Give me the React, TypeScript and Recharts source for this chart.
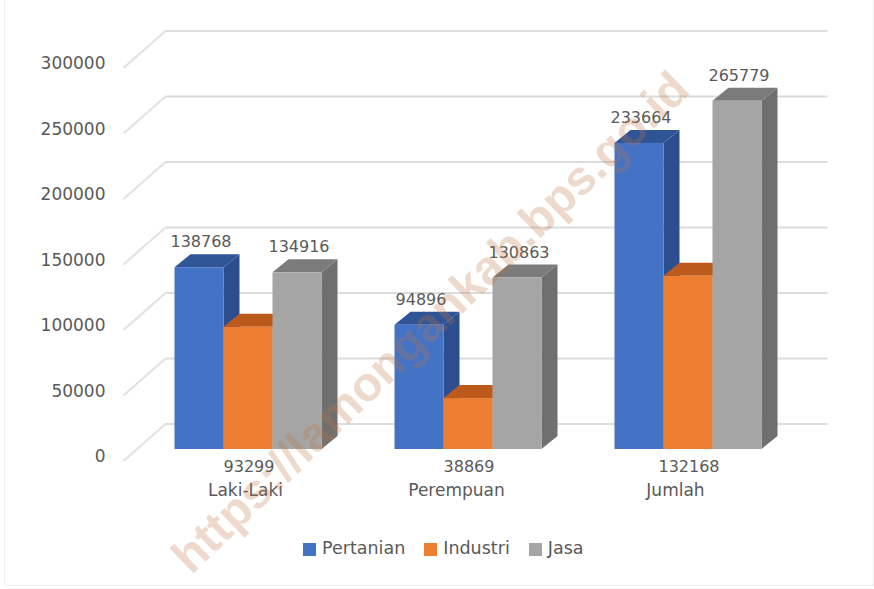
import React from 'react';
import { BarChart, Bar, XAxis, YAxis, CartesianGrid, Legend, LabelList } from 'recharts';

const categories = ['Laki-Laki', 'Perempuan', 'Jumlah'];
const pertanian = [138768, 94896, 233664];
const industri = [93299, 38869, 132168];
const jasa = [134916, 130863, 265779];
const yTicks = [0, 50000, 100000, 150000, 200000, 250000, 300000];

const data = categories.map((name, i) => ({
  name,
  Pertanian: pertanian[i],
  Industri: industri[i],
  Jasa: jasa[i],
}));

const FONT = '"DejaVu Sans", sans-serif';
const TEXT = '#595959';
const DEPTH_X = 16;
const DEPTH_Y = 13;
// the category labels sit left of their group in the original
const labelShift = [-2, -11, -12];

const box = (side: string, top: string) => (props: any) => {
  const { x, y, width, height, fill } = props;
  const r = x + width;
  const b = y + height;
  return (
    <g>
      <path d={`M${r},${y} L${r + DEPTH_X},${y - DEPTH_Y} L${r + DEPTH_X},${b - DEPTH_Y} L${r},${b} Z`} fill={side} />
      <path d={`M${x},${y} L${x + DEPTH_X},${y - DEPTH_Y} L${r + DEPTH_X},${y - DEPTH_Y} L${r},${y} Z`} fill={top} />
      <rect x={x} y={y} width={width} height={height} fill={fill} />
    </g>
  );
};

const wallLine = (props: any) => {
  const { x1, x2, y1, index } = props;
  return (
    <g key={index}>
      <line x1={x1 - 14} y1={y1 + 12} x2={x1 + 28} y2={y1 - 25} stroke="#e2e2e2" strokeWidth={2} />
      <line x1={x1 + 28} y1={y1 - 25} x2={x2 + 30} y2={y1 - 25} stroke="#dcdcdc" strokeWidth={2} />
    </g>
  );
};

const topLabel = (props: any) => {
  const { x, y, width, value } = props;
  return (
    <text x={x + width / 2 + 2} y={y - 20} textAnchor="middle" fontFamily={FONT} fontSize={16} fill={TEXT}>
      {value}
    </text>
  );
};

const bottomLabel = (props: any) => {
  const { x, y, width, height, value } = props;
  return (
    <text x={x + width / 2 + 1} y={y + height + 23} textAnchor="middle" fontFamily={FONT} fontSize={16} fill={TEXT}>
      {value}
    </text>
  );
};

const CategoryTick = (props: any) => {
  const { x, y, payload, index } = props;
  return (
    <text x={x + labelShift[index]} y={y} textAnchor="middle" fontFamily={FONT} fontSize={17} fill={TEXT}>
      {payload.value}
    </text>
  );
};

const LegendRow = ({ payload }: any) => (
  <div style={{ display: 'flex', alignItems: 'center', fontFamily: FONT, fontSize: 17.5, color: TEXT }}>
    {(payload || []).map((item: any) => (
      <div key={item.value} style={{ display: 'flex', alignItems: 'center', marginRight: 19 }}>
        <span style={{ width: 13, height: 13, background: item.color, marginRight: 6, marginTop: 3 }} />
        {item.value}
      </div>
    ))}
  </div>
);

export default function App() {
  return (
    <div style={{ position: 'absolute', left: 0, top: 0, width: 874, height: 589, background: '#fff', overflow: 'hidden' }}>
      <div style={{ position: 'absolute', left: 4, top: -2, width: 868, height: 586, border: '1px solid #f1f1f1' }} />
      <BarChart
        width={874}
        height={589}
        data={data}
        barSize={49}
        barGap={0}
        margin={{ top: 56, right: 76.5, bottom: 90, left: 0 }}
      >
        <CartesianGrid vertical={false} horizontal={wallLine} />
        <XAxis dataKey="name" height={30} axisLine={false} tickLine={false} interval={0} tick={<CategoryTick />} tickMargin={41} />
        <YAxis
          domain={[0, 300000]}
          ticks={yTicks}
          width={137.5}
          axisLine={false}
          tickLine={false}
          tickMargin={26}
          tick={{ fontFamily: FONT, fontSize: 17, fill: TEXT, dy: 7 }}
        />
        <Legend
          content={<LegendRow />}
          itemSorter={null}
          wrapperStyle={{ left: 303, top: 538, width: 400 }}
        />
        <Bar dataKey="Pertanian" fill="#4472C4" shape={box('#2C4D8E', '#2F5597')} isAnimationActive={false}>
          <LabelList dataKey="Pertanian" content={topLabel} />
        </Bar>
        <Bar dataKey="Industri" fill="#ED7D31" shape={box('#B85F22', '#BC5A1C')} isAnimationActive={false}>
          <LabelList dataKey="Industri" content={bottomLabel} />
        </Bar>
        <Bar dataKey="Jasa" fill="#A5A5A5" shape={box('#6F6F6F', '#7B7B7B')} isAnimationActive={false}>
          <LabelList dataKey="Jasa" content={topLabel} />
        </Bar>
      </BarChart>
      <div
        style={{
          position: 'absolute',
          left: 430,
          top: 322,
          transform: 'translate(-50%, -50%) rotate(-44deg)',
          whiteSpace: 'nowrap',
          fontFamily: '"Liberation Sans", sans-serif',
          fontWeight: 700,
          fontSize: 48,
          color: 'rgba(190, 120, 70, 0.27)',
          pointerEvents: 'none',
        }}
      >
        https://lamongankab.bps.go.id
      </div>
    </div>
  );
}
